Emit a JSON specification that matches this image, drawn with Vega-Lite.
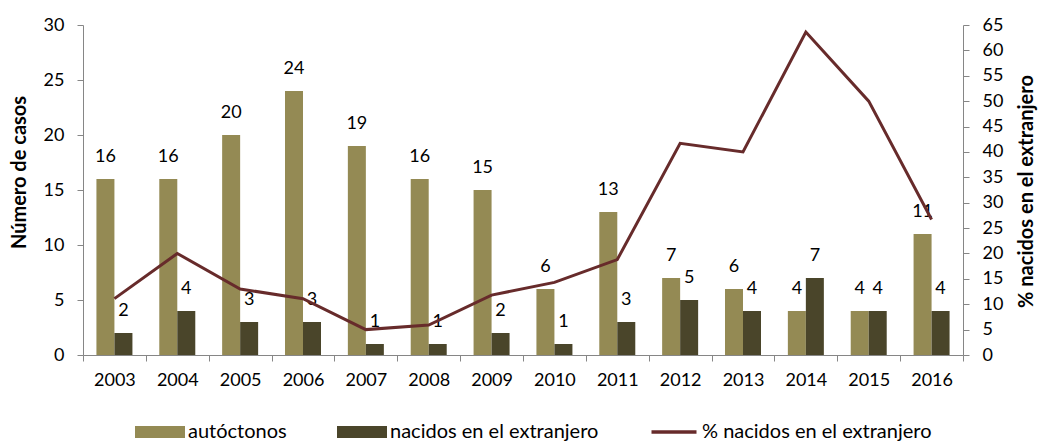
{
  "$schema": "https://vega.github.io/schema/vega-lite/v6.json",
  "width": 880,
  "height": 330,
  "autosize": "none",
  "padding": {"left": 83, "top": 25, "right": 77, "bottom": 86},
  "background": "white",
  "config": {
    "font": "Lato",
    "view": {"stroke": null},
    "axis": {
      "labelFont": "Lato", "labelFontSize": 18, "labelColor": "#000000",
      "titleFont": "Lato", "titleFontSize": 20, "titleFontWeight": "bold", "titleColor": "#000000",
      "domainColor": "#868686", "tickColor": "#868686", "grid": false, "tickSize": 6
    }
  },
  "datasets": {
    "bars": [
      {"year": "2003", "serie": "autóctonos", "casos": 16}, {"year": "2003", "serie": "nacidos en el extranjero", "casos": 2},
      {"year": "2004", "serie": "autóctonos", "casos": 16}, {"year": "2004", "serie": "nacidos en el extranjero", "casos": 4},
      {"year": "2005", "serie": "autóctonos", "casos": 20}, {"year": "2005", "serie": "nacidos en el extranjero", "casos": 3},
      {"year": "2006", "serie": "autóctonos", "casos": 24}, {"year": "2006", "serie": "nacidos en el extranjero", "casos": 3},
      {"year": "2007", "serie": "autóctonos", "casos": 19}, {"year": "2007", "serie": "nacidos en el extranjero", "casos": 1},
      {"year": "2008", "serie": "autóctonos", "casos": 16}, {"year": "2008", "serie": "nacidos en el extranjero", "casos": 1},
      {"year": "2009", "serie": "autóctonos", "casos": 15}, {"year": "2009", "serie": "nacidos en el extranjero", "casos": 2},
      {"year": "2010", "serie": "autóctonos", "casos": 6}, {"year": "2010", "serie": "nacidos en el extranjero", "casos": 1},
      {"year": "2011", "serie": "autóctonos", "casos": 13}, {"year": "2011", "serie": "nacidos en el extranjero", "casos": 3},
      {"year": "2012", "serie": "autóctonos", "casos": 7}, {"year": "2012", "serie": "nacidos en el extranjero", "casos": 5},
      {"year": "2013", "serie": "autóctonos", "casos": 6}, {"year": "2013", "serie": "nacidos en el extranjero", "casos": 4},
      {"year": "2014", "serie": "autóctonos", "casos": 4}, {"year": "2014", "serie": "nacidos en el extranjero", "casos": 7},
      {"year": "2015", "serie": "autóctonos", "casos": 4}, {"year": "2015", "serie": "nacidos en el extranjero", "casos": 4},
      {"year": "2016", "serie": "autóctonos", "casos": 11}, {"year": "2016", "serie": "nacidos en el extranjero", "casos": 4}
    ],
    "pct": [
      {"year": "2003", "pct": 11.1}, {"year": "2004", "pct": 20.0}, {"year": "2005", "pct": 13.0},
      {"year": "2006", "pct": 11.1}, {"year": "2007", "pct": 5.0}, {"year": "2008", "pct": 5.9},
      {"year": "2009", "pct": 11.8}, {"year": "2010", "pct": 14.3}, {"year": "2011", "pct": 18.8},
      {"year": "2012", "pct": 41.7}, {"year": "2013", "pct": 40.0}, {"year": "2014", "pct": 63.6},
      {"year": "2015", "pct": 50.0}, {"year": "2016", "pct": 26.7}
    ]
  },
  "encoding": {
    "x": {
      "field": "year", "type": "ordinal",
      "scale": {"type": "band", "paddingInner": 0, "paddingOuter": 0},
      "axis": {"title": null, "labelAngle": 0, "tickBand": "extent", "labelPadding": 10}
    }
  },
  "layer": [
    {
      "data": {"name": "bars"},
      "encoding": {
        "xOffset": {"field": "serie", "type": "nominal", "scale": {"domain": ["autóctonos", "nacidos en el extranjero"], "paddingInner": 0, "paddingOuter": 0.746}},
        "y": {
          "field": "casos", "type": "quantitative",
          "scale": {"domain": [0, 30], "nice": false},
          "axis": {"title": "Número de casos", "values": [0, 5, 10, 15, 20, 25, 30], "labelPadding": 13, "titleX": -58, "titleY": 147, "titleBaseline": "alphabetic", "titleAngle": 270}
        }
      },
      "layer": [
        {
          "mark": {"type": "bar"},
          "encoding": {
            "color": {
              "field": "serie", "type": "nominal",
              "scale": {"domain": ["autóctonos", "nacidos en el extranjero", "% nacidos en el extranjero"], "range": ["#948A54", "#4A452A", "#672B2B"]},
              "legend": {
                "title": null, "orient": "none", "direction": "horizontal",
                "legendX": 52, "legendY": 382,
                "symbolSize": 2500, "labelFont": "Lato", "labelFontSize": 20, "labelColor": "#000000",
                "labelOffset": 3, "columnPadding": 50, "labelLimit": 500,
                "encode": {
                  "symbols": {
                    "update": {
                      "shape": {"signal": "datum.value == '% nacidos en el extranjero' ? 'M-0.9,-0.07H0.9V0.07H-0.9Z' : 'M-1,-0.24H1V0.24H-1Z'"},
                      "fill": {"signal": "scale('color', datum.value)"},
                      "strokeWidth": {"value": 0},
                      "opacity": {"value": 1}
                    }
                  }
                }
              }
            }
          }
        },
        {
          "mark": {"type": "text", "baseline": "alphabetic", "dy": -17, "fontSize": 18, "font": "Lato", "color": "#000000"},
          "encoding": {"text": {"field": "casos", "type": "quantitative"}}
        }
      ]
    },
    {
      "data": {"name": "pct"},
      "mark": {"type": "line", "strokeWidth": 3},
      "encoding": {
        "y": {
          "field": "pct", "type": "quantitative",
          "scale": {"domain": [0, 65], "nice": false},
          "axis": {"orient": "right", "title": "% nacidos en el extranjero", "values": [0, 5, 10, 15, 20, 25, 30, 35, 40, 45, 50, 55, 60, 65], "labelPadding": 13, "titleX": 69, "titleY": 166, "titleBaseline": "alphabetic", "titleAngle": 270}
        },
        "color": {"datum": "% nacidos en el extranjero", "type": "nominal"}
      }
    }
  ],
  "resolve": {"scale": {"y": "independent"}}
}
